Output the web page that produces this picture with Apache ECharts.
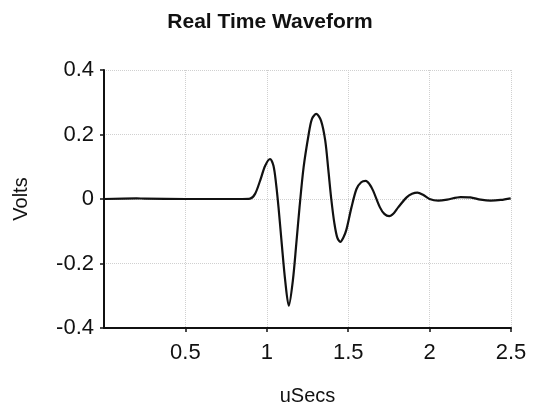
<!DOCTYPE html>
<html>
<head>
<meta charset="utf-8">
<script src="https://cdn.jsdelivr.net/npm/echarts@6/dist/echarts.min.js"></script>
<style>html,body{margin:0;padding:0;background:#fff}#c{width:540px;height:406px}</style>
</head>
<body>
<div id="c"></div>
<script>
var titleText = 'Real Time Waveform';
var xName = 'uSecs';
var yName = 'Volts';
var xTicks = [0, 0.5, 1, 1.5, 2, 2.5];
var yTicks = [-0.4, -0.2, 0, 0.2, 0.4];
var timeUs = [0, 0.2, 0.25, 0.5, 0.85, 0.897, 0.928, 0.959, 0.99, 1.02, 1.041, 1.057, 1.072, 1.092, 1.113, 1.135, 1.16, 1.181, 1.201, 1.226, 1.257, 1.277, 1.304, 1.333, 1.359, 1.378, 1.396, 1.415, 1.433, 1.452, 1.47, 1.489, 1.52, 1.551, 1.58, 1.608, 1.632, 1.653, 1.695, 1.722, 1.752, 1.78, 1.807, 1.859, 1.892, 1.925, 1.96, 2.0, 2.053, 2.108, 2.19, 2.25, 2.314, 2.375, 2.437, 2.498];
var volts  = [0, 0.002, 0.001, 0, 0, 0.001, 0.016, 0.057, 0.103, 0.124, 0.103, 0.047, -0.026, -0.14, -0.253, -0.331, -0.253, -0.14, -0.026, 0.098, 0.2, 0.248, 0.264, 0.243, 0.181, 0.09, 0, -0.075, -0.12, -0.133, -0.12, -0.095, -0.026, 0.031, 0.052, 0.056, 0.045, 0.026, -0.026, -0.046, -0.053, -0.044, -0.026, 0.005, 0.016, 0.02, 0.013, 0, -0.005, -0.002, 0.006, 0.005, -0.002, -0.005, -0.003, 0.002];

var pts = timeUs.map(function (t, i) { return [t, volts[i]]; });
var chart = echarts.init(document.getElementById('c'));
var labelFont = 'Liberation Sans, Arial, sans-serif';
chart.setOption({
  backgroundColor: '#fff',
  animation: false,
  title: {
    text: titleText, left: 'center', top: 7,
    textStyle: { fontFamily: 'Liberation Sans, sans-serif', fontWeight: 'bold', fontSize: 21, color: '#111' }
  },
  grid: { left: 104, right: 29, top: 70, bottom: 78, outerBoundsMode: 'none', containLabel: false },
  xAxis: {
    type: 'value', min: xTicks[0], max: xTicks[xTicks.length - 1], interval: 0.5,
    name: xName, nameLocation: 'middle', nameGap: 58,
    nameTextStyle: { fontFamily: labelFont, fontSize: 20, color: '#111' },
    axisLine: { show: true, onZero: false, lineStyle: { color: '#111', width: 2 } },
    axisTick: { show: true, length: 4, lineStyle: { color: '#111', width: 1.5 } },
    axisLabel: { showMinLabel: false, margin: 14, fontFamily: labelFont, fontSize: 22, color: '#111' },
    splitLine: { show: true, lineStyle: { color: '#d0d0d0', type: 'dotted', width: 1 } }
  },
  yAxis: {
    type: 'value', min: yTicks[0], max: yTicks[yTicks.length - 1], interval: 0.2,
    name: yName, nameLocation: 'middle', nameGap: 73,
    nameTextStyle: { fontFamily: labelFont, fontSize: 20, color: '#111' },
    axisLine: { show: true, lineStyle: { color: '#111', width: 2 } },
    axisTick: { show: true, length: 4, lineStyle: { color: '#111', width: 1.5 } },
    axisLabel: { margin: 10, fontFamily: labelFont, fontSize: 22, color: '#111',
      formatter: function (v) { return String(Math.round(v * 10) / 10); } },
    splitLine: { show: true, lineStyle: { color: '#d0d0d0', type: 'dotted', width: 1 } }
  },
  series: [{
    type: 'line', data: pts, smooth: 0.3, showSymbol: false,
    lineStyle: { color: '#111', width: 2.2 }
  }]
});
</script>
</body>
</html>
